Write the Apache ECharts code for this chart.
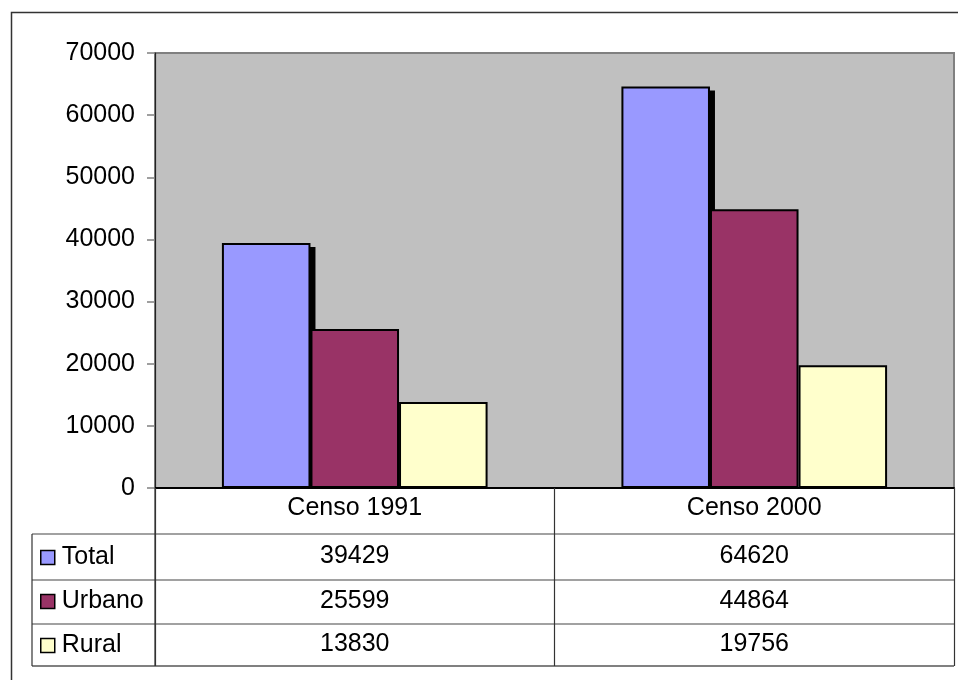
<!DOCTYPE html>
<html>
<head>
<meta charset="utf-8">
<script src="https://cdn.jsdelivr.net/npm/echarts@6/dist/echarts.min.js"></script>
<style>
html,body{margin:0;padding:0;background:#fff;}
#c{width:958px;height:680px;}
</style>
</head>
<body>
<div id="c"></div>
<script>
const categories = ['Censo 1991', 'Censo 2000'];
const seriesNames = ['Total', 'Urbano', 'Rural'];
const totalValues = [39429, 64620];
const urbanoValues = [25599, 44864];
const ruralValues = [13830, 19756];
const yTicks = [0, 10000, 20000, 30000, 40000, 50000, 60000, 70000];

const colors = ['#9999FF', '#993366', '#FFFFCC'];
const FONT = 'Arial, "Liberation Sans", sans-serif';
const FS = 25;
const CAT_GAP = 0.335;

const chart = echarts.init(document.getElementById('c'), null, {renderer: 'canvas'});

const allValues = [totalValues, urbanoValues, ruralValues];

function mkSeries(i) {
  return {
    name: seriesNames[i],
    type: 'bar',
    data: allValues[i],
    barGap: '0%',
    barCategoryGap: (CAT_GAP * 100) + '%',
    itemStyle: {color: colors[i], borderColor: '#000', borderWidth: 2},
    emphasis: {disabled: true},
    z: 3,
    animation: false
  };
}

// Shadow of the Total bars (drawn behind the bars)
const shadowSeries = {
  type: 'custom',
  name: 'shadow',
  data: totalValues.map((v, i) => [i, v]),
  z: 2,
  silent: true,
  animation: false,
  renderItem: function (params, api) {
    const idx = api.value(0);
    const val = api.value(1);
    const top = api.coord([idx, val]);
    const base = api.coord([idx, 0]);
    const catW = api.size([1, 0])[0];
    const barW = catW * (1 - CAT_GAP) / 3;
    const left = top[0] - catW * (1 - CAT_GAP) / 2;
    const dx = 5, dy = 4;
    return {
      type: 'rect',
      shape: {x: left + dx, y: top[1] + dy, width: barW, height: base[1] - top[1] - dy},
      style: {fill: '#000'}
    };
  }
};

chart.setOption({
  animation: false,
  textStyle: {fontFamily: FONT},
  grid: {
    left: 155, right: 4, top: 53, bottom: 192,
    show: true, backgroundColor: '#C0C0C0', borderColor: '#808080', borderWidth: 2
  },
  legend: {
    data: seriesNames,
    orient: 'vertical',
    left: 40, top: 545,
    padding: 0,
    itemWidth: 14, itemHeight: 14, itemGap: 19,
    icon: 'rect',
    selectedMode: false,
    textStyle: {fontSize: FS, lineHeight: 25, color: '#000', fontFamily: FONT, padding: [0, 0, 0, 2]},
    itemStyle: {borderColor: '#000', borderWidth: 1.5}
  },
  xAxis: {
    type: 'category',
    data: categories,
    axisLine: {show: true, lineStyle: {color: '#000', width: 2}},
    axisTick: {show: true, length: 178, lineStyle: {color: '#333', width: 1.2}, interval: 0},
    axisLabel: {fontSize: FS, color: '#000', margin: 8, lineHeight: 25, fontFamily: FONT}
  },
  yAxis: {
    type: 'value',
    min: yTicks[0], max: yTicks[yTicks.length - 1], interval: yTicks[1] - yTicks[0],
    axisLine: {show: true, lineStyle: {color: '#222', width: 1.2}},
    axisTick: {show: true, length: 8, lineStyle: {color: '#808080', width: 1.5}},
    axisLabel: {fontSize: FS, color: '#000', margin: 20, fontFamily: FONT, formatter: v => String(v)},
    splitLine: {show: false}
  },
  series: [shadowSeries, mkSeries(0), mkSeries(1), mkSeries(2)]
});

// Data table built from the arrays, positioned via axis scale
const rowYs = [534, 580, 624, 666];
const tableLeft = 32, tableRight = 954, catLeft = 155;
const graphics = [];
graphics.push({type: 'rect', shape: {x: 11.5, y: 12.5, width: 1200, height: 1200},
  style: {fill: 'none', stroke: '#333', lineWidth: 1.5}, silent: true});
rowYs.forEach((y, k) => {
  const last = k === rowYs.length - 1;
  graphics.push({type: 'line', shape: {x1: tableLeft, y1: y, x2: tableRight, y2: y},
    style: {stroke: last ? '#808080' : '#444', lineWidth: last ? 2 : 1.2}, silent: true});
});
graphics.push({type: 'line', shape: {x1: tableLeft, y1: rowYs[0], x2: tableLeft, y2: rowYs[rowYs.length - 1]},
  style: {stroke: '#333', lineWidth: 1.2}, silent: true});
graphics.push({type: 'line', shape: {x1: catLeft, y1: 488, x2: catLeft, y2: rowYs[rowYs.length - 1]},
  style: {stroke: '#333', lineWidth: 1.2}, silent: true});

const textCenters = [556, 601, 644];
allValues.forEach((vals, r) => {
  vals.forEach((v, c) => {
    const x = chart.convertToPixel({xAxisIndex: 0}, categories[c]);
    graphics.push({type: 'text', x: x, y: textCenters[r],
      style: {text: String(v), font: FS + 'px ' + FONT, fill: '#000', textAlign: 'center', textVerticalAlign: 'middle'},
      silent: true});
  });
});

chart.setOption({graphic: graphics});
</script>
</body>
</html>
